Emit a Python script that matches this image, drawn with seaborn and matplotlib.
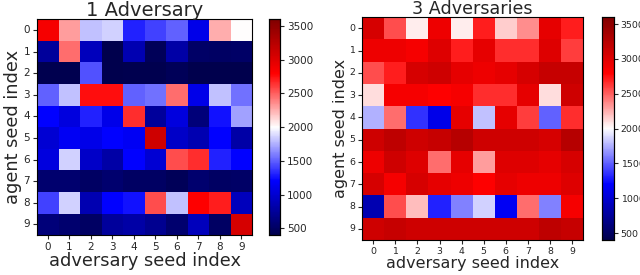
import numpy as np
import pandas as pd
import matplotlib
matplotlib.use("Agg")
import matplotlib.pyplot as plt
import seaborn as sns

# ------------------------------------------------------------
# Data (reward per agent seed / adversary seed)
# ------------------------------------------------------------
seeds = list(range(10))

one_adv = [
    [2850, 2300, 1800, 1850, 1300, 1400, 1500, 1100, 2250, 2000],
    [750, 2450, 900, 400, 850, 450, 800, 520, 500, 520],
    [420, 420, 1450, 400, 420, 420, 450, 410, 400, 400],
    [1500, 1800, 2750, 2750, 1500, 1550, 2450, 1100, 1800, 1550],
    [1200, 1050, 1300, 1100, 2650, 750, 1050, 600, 1250, 1700],
    [1000, 1150, 1100, 1200, 1150, 3100, 950, 850, 1200, 800],
    [1050, 1850, 950, 800, 1200, 1000, 2550, 2650, 1300, 1200],
    [550, 550, 500, 550, 500, 500, 450, 550, 500, 520],
    [1400, 1850, 850, 1200, 1250, 2550, 1800, 2800, 2700, 900],
    [600, 550, 500, 750, 800, 700, 550, 900, 500, 3050],
]

three_adv = [
    [3050, 2550, 2050, 2900, 2050, 2700, 2150, 2350, 2950, 2700],
    [2900, 2900, 2850, 3000, 2700, 2950, 2650, 2650, 3000, 2600],
    [2550, 2700, 3050, 3100, 2950, 2900, 2950, 3050, 3150, 3150],
    [2100, 2850, 2850, 2800, 2850, 2650, 2650, 2950, 2100, 3100],
    [1750, 2450, 1350, 1100, 2950, 1800, 2950, 2600, 1500, 2650],
    [3100, 3200, 3100, 3150, 3250, 3100, 3100, 3100, 3050, 3250],
    [2900, 3100, 3000, 2450, 2950, 2300, 3000, 3000, 2950, 3050],
    [3050, 2850, 3050, 2950, 2900, 2800, 2950, 2900, 2900, 3000],
    [850, 2550, 2200, 1300, 1600, 1850, 1150, 2450, 1600, 2850],
    [3100, 3150, 3100, 3100, 3100, 3100, 3100, 3100, 3200, 3150],
]

titles = ["1 Adversary", "3 Adversaries"]
cbar_ticks = [500, 1000, 1500, 2000, 2500, 3000, 3500]

# ------------------------------------------------------------
# Plot
# ------------------------------------------------------------
sns.set_style("white")
fig = plt.figure(figsize=(6.4, 2.75), dpi=100)

# (heatmap box, colorbar box, font scale) -- the two panels were scaled differently
layout = [
    ([0.058, 0.145, 0.336, 0.785], [0.420, 0.145, 0.018, 0.785], 1.0),
    ([0.566, 0.127, 0.345, 0.811], [0.941, 0.127, 0.018, 0.811], 0.9),
]

for data, title, (ax_pos, cb_pos, fs) in zip([one_adv, three_adv], titles, layout):
    df = pd.DataFrame(data, index=seeds, columns=seeds)
    ax = fig.add_axes(ax_pos)
    cax = fig.add_axes(cb_pos)
    sns.heatmap(df, ax=ax, cbar_ax=cax, cmap="seismic", vmin=400, vmax=3600,
                square=False, cbar_kws={"ticks": cbar_ticks})
    ax.set_title(title, fontsize=14 * fs, pad=2)
    ax.set_xlabel("adversary seed index", fontsize=12.8 * fs, labelpad=0)
    ax.set_ylabel("agent seed index", fontsize=12.8 * fs, labelpad=1)
    ax.tick_params(axis="both", labelsize=7.5 * fs, length=3, pad=2,
                   left=True, bottom=True)
    ax.set_yticklabels(seeds, rotation=0)
    for s in ax.spines.values():
        s.set_visible(True)
        s.set_color("black")
        s.set_linewidth(0.8)
    cax.tick_params(labelsize=7.5 * fs, length=3, pad=2)
    for s in cax.spines.values():
        s.set_visible(True)
        s.set_color("black")
        s.set_linewidth(0.8)

fig.savefig("out.png", dpi=100)
